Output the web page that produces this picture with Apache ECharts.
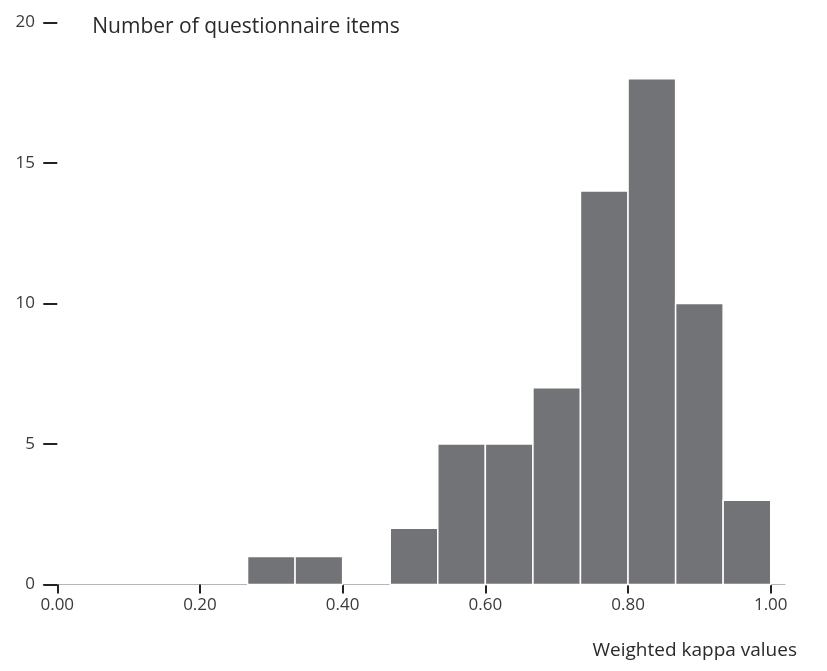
<!DOCTYPE html>
<html>
<head>
<meta charset="utf-8">
<script src="https://cdn.jsdelivr.net/npm/echarts@6/dist/echarts.min.js"></script>
<style>
html,body{margin:0;padding:0;background:#fff;}
#chart{width:827px;height:671px;}
</style>
</head>
<body>
<div id="chart"></div>
<script>
// Histogram bin edges (weighted kappa values)
var binStarts = [0.0000, 0.0667, 0.1333, 0.2000, 0.2667, 0.3333, 0.4000, 0.4667, 0.5333, 0.6000, 0.6667, 0.7333, 0.8000, 0.8667, 0.9333];
var binEnds   = [0.0667, 0.1333, 0.2000, 0.2667, 0.3333, 0.4000, 0.4667, 0.5333, 0.6000, 0.6667, 0.7333, 0.8000, 0.8667, 0.9333, 1.0000];
// Number of questionnaire items per bin
var counts    = [0, 0, 0, 0, 1, 1, 0, 2, 5, 5, 7, 14, 18, 10, 3];
// Tick values
var xTicks = [0, 0.2, 0.4, 0.6, 0.8, 1.0];
var yTicks = [0, 5, 10, 15, 20];

var data = counts.map(function (c, i) { return [binStarts[i], binEnds[i], c]; });

var FONT = 'Open Sans';
var chart = echarts.init(document.getElementById('chart'));
chart.setOption({
  animation: false,
  backgroundColor: '#fff',
  grid: { left: 43, right: 42, top: 22.5, bottom: 86.5, containLabel: false },
  xAxis: {
    type: 'value',
    min: -0.02,
    max: 1.02,
    splitLine: { show: false },
    axisLine: { show: true, onZero: false, lineStyle: { color: '#b5b5b5', width: 1 } },
    axisTick: { show: true, customValues: xTicks, length: 9, lineStyle: { color: '#222', width: 2 } },
    axisLabel: {
      customValues: xTicks, margin: 12, fontFamily: FONT, fontSize: 17, color: '#3a3a3a',
      formatter: function (v) { return v.toFixed(2); }
    },
    name: 'Weighted kappa values',
    nameLocation: 'end',
    nameGap: 12,
    nameTextStyle: { fontFamily: FONT, fontSize: 19, color: '#2a2a2a', align: 'right', verticalAlign: 'top', padding: [57, 0, 0, 0] }
  },
  yAxis: {
    type: 'value',
    min: 0,
    max: 20,
    interval: 5,
    offset: -14,
    splitLine: { show: false },
    axisLine: { show: false },
    axisTick: { show: true, length: 14, lineStyle: { color: '#222', width: 2 } },
    axisLabel: { margin: 22, fontFamily: FONT, fontSize: 17, color: '#3a3a3a', padding: [0, 0, 6, 0] },
    name: 'Number of questionnaire items',
    nameLocation: 'end',
    nameGap: -5,
    nameTextStyle: { fontFamily: FONT, fontSize: 21, color: '#2a2a2a', align: 'left', verticalAlign: 'middle', padding: [0, 0, 0, 35] }
  },
  series: [{
    type: 'custom',
    data: data,
    encode: { x: [0, 1], y: 2 },
    renderItem: function (params, api) {
      var v = api.value(2);
      if (!v) return null;
      var p0 = api.coord([api.value(0), v]);
      var p1 = api.coord([api.value(1), 0]);
      return {
        type: 'rect',
        shape: { x: p0[0], y: p0[1], width: p1[0] - p0[0], height: p1[1] - p0[1] },
        style: { fill: '#717377', stroke: '#ffffff', lineWidth: 1.5 }
      };
    }
  }]
});
</script>
</body>
</html>
